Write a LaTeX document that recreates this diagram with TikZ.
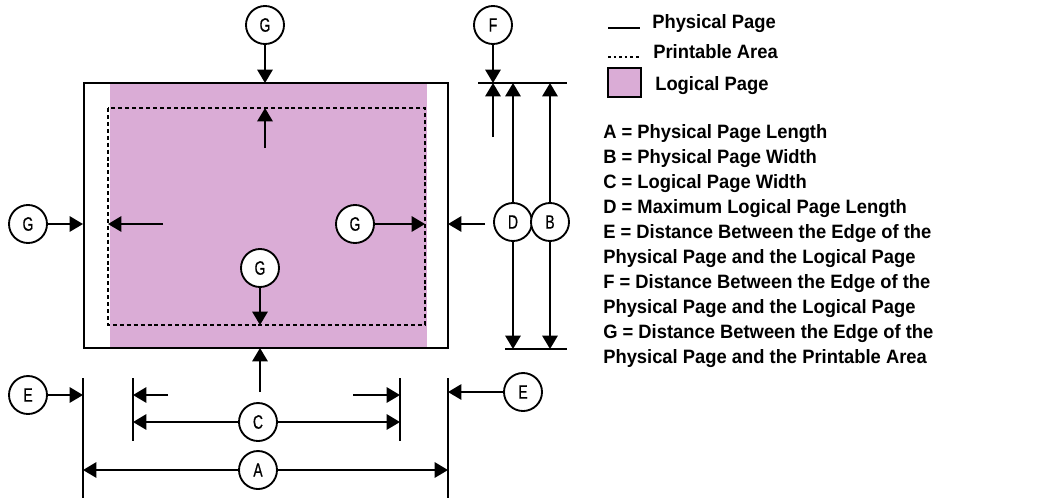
\documentclass[tikz,border=0pt]{standalone}
\usepackage{fontspec}
\setsansfont{Liberation Sans}
\newfontfamily\condfont[FakeStretch=0.72,FakeBold=0.6]{Liberation Sans}
\newfontfamily\legfont[FakeStretch=0.95]{Liberation Sans}
\usetikzlibrary{arrows.meta}
\definecolor{logpink}{RGB}{218,172,214}

\begin{document}
\begin{tikzpicture}[x=0.75pt,y=-0.75pt,
  lbl/.style={circle,draw,line width=1.4pt,fill=white,minimum size=28.5pt,inner sep=0pt,
    font=\condfont\fontsize{14.5}{15}\selectfont},
  dim/.style={line width=1.4pt,-{Triangle[length=10pt,width=11.5pt]}},
  tick/.style={line width=1.4pt},
  printable/.style={line width=1.3pt,dash pattern=on 3pt off 2.2pt},
  legtext/.style={anchor=base west,inner sep=0pt,font=\legfont\bfseries\fontsize{14.5}{18.75}\selectfont}]
\useasboundingbox (0,0) rectangle (1044,501);

% Pages
\fill[logpink] (110,83) rectangle (427,348);
\draw[printable] (108,108) rectangle (425,325);
\draw[line width=1.5pt] (84,83) rectangle (448,348);

% Labels
\node[lbl] (gtop) at (265,25) {G};
\node[lbl] (gleft) at (28,224) {G};
\node[lbl] (gright) at (355,224) {G};
\node[lbl] (gmid) at (260,268) {G};
\node[lbl] (f) at (493,25) {F};
\node[lbl] (d) at (513,222) {D};
\node[lbl] (b) at (550,222) {B};
\node[lbl] (eleft) at (28,395) {E};
\node[lbl] (eright) at (523,392) {E};
\node[lbl] (c) at (258,422) {C};
\node[lbl] (a) at (258,470) {A};

% Free ends
\coordinate (toptip) at (265,83);
\coordinate (ptop) at (265,108);
\coordinate (ptopstart) at (265,148);
\coordinate (lefttip) at (83,224);
\coordinate (pleft) at (108,224);
\coordinate (pleftstart) at (163,224);
\coordinate (pright) at (425,224);
\coordinate (righttip) at (448,224);
\coordinate (rightstart) at (485,224);
\coordinate (pbot) at (260,325);
\coordinate (bottip) at (260,348);
\coordinate (botstart) at (260,392);
\coordinate (ftip) at (493,83);
\coordinate (fstart) at (493,137);
\coordinate (dtop) at (513,83);
\coordinate (dbot) at (513,349);
\coordinate (btop) at (550,83);
\coordinate (bbot) at (550,349);
\coordinate (aleft) at (83,470);
\coordinate (aright) at (448,470);
\coordinate (cleft) at (133,422);
\coordinate (cright) at (400,422);
\coordinate (eltip) at (83,395);
\coordinate (ertip) at (448,392);
\coordinate (clefttip) at (133,395);
\coordinate (cleftstart) at (168,395);
\coordinate (crighttip) at (400,395);
\coordinate (crightstart) at (353,395);

% Extension lines
\draw[tick] (478,83) -- (567,83);
\draw[tick] (505,349) -- (567,349);
\draw[tick] (83,378) -- (83,498);
\draw[tick] (448,378) -- (448,498);
\draw[tick] (133,378) -- (133,441);
\draw[tick] (400,378) -- (400,441);

% Arrows
\draw[dim] (gtop) -- (toptip);
\draw[dim] (ptopstart) -- (ptop);
\draw[dim] (gleft) -- (lefttip);
\draw[dim] (pleftstart) -- (pleft);
\draw[dim] (gright) -- (pright);
\draw[dim] (rightstart) -- (righttip);
\draw[dim] (gmid) -- (pbot);
\draw[dim] (botstart) -- (bottip);
\draw[dim] (f) -- (ftip);
\draw[dim] (fstart) -- (ftip);
\draw[dim] (d) -- (dtop);
\draw[dim] (d) -- (dbot);
\draw[dim] (b) -- (btop);
\draw[dim] (b) -- (bbot);
\draw[dim] (eleft) -- (eltip);
\draw[dim] (eright) -- (ertip);
\draw[dim] (cleftstart) -- (clefttip);
\draw[dim] (crightstart) -- (crighttip);
\draw[dim] (c) -- (cleft);
\draw[dim] (c) -- (cright);
\draw[dim] (a) -- (aleft);
\draw[dim] (a) -- (aright);

% Legend
\draw[line width=1.3pt] (608,28) -- (640,28);
\node[legtext] (lphys) at (652,28) {Physical Page};
\draw[line width=1.3pt,dash pattern=on 2pt off 2.2pt] (608,57) -- (640,57);
\node[legtext] (lprint) at (653,58) {Printable Area};
\draw[line width=1.4pt,fill=logpink] (608,68) rectangle (641,97);
\node[legtext] (llog) at (655,90) {Logical Page};

% Definitions
\node[legtext] (da) at (603,138) {A = Physical Page Length};
\node[legtext] (db) at (603,163) {B = Physical Page Width};
\node[legtext] (dc) at (603,188) {C = Logical Page Width};
\node[legtext] (dd) at (603,213) {D = Maximum Logical Page Length};
\node[legtext] (de) at (603,238) {E = Distance Between the Edge of the};
\node[legtext] (de2) at (603,263) {Physical Page and the Logical Page};
\node[legtext] (df) at (603,288) {F = Distance Between the Edge of the};
\node[legtext] (df2) at (603,313) {Physical Page and the Logical Page};
\node[legtext] (dg) at (603,338) {G = Distance Between the Edge of the};
\node[legtext] (dg2) at (603,363) {Physical Page and the Printable Area};
\end{tikzpicture}
\end{document}
